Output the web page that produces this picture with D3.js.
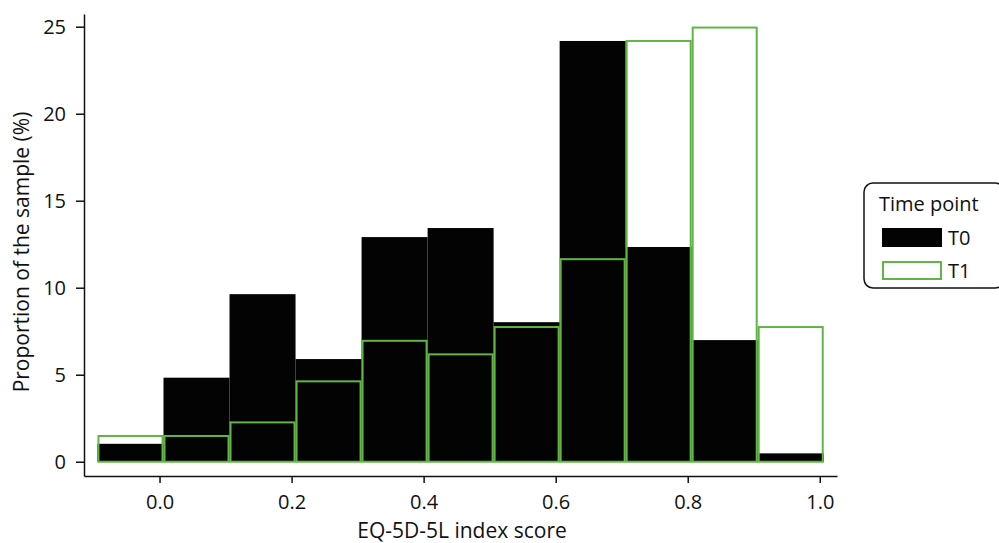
<!DOCTYPE html>
<html><head><meta charset="utf-8">
<script src="https://cdn.jsdelivr.net/npm/d3@7"></script>
<style>body{margin:0;background:#fff}svg{display:block}text{font-family:"Open Sans",sans-serif;fill:#111}</style>
</head><body><svg id="c" width="999" height="543"></svg>
<script>
const binEdges = [-0.094, 0.006, 0.106, 0.206, 0.306, 0.406, 0.506, 0.606, 0.706, 0.806, 0.906, 1.006];
const t0Values = [1.03, 4.83, 9.63, 5.90, 12.91, 13.43, 8.02, 24.18, 12.34, 6.99, 0.48];
const t1Values = [1.48, 1.48, 2.26, 4.62, 6.95, 6.17, 7.74, 11.64, 24.18, 24.95, 7.74];
const xTicks = [0.0, 0.2, 0.4, 0.6, 0.8, 1.0];
const yTicks = [0, 5, 10, 15, 20, 25];
const seriesNames = ["T0", "T1"];

const svg = d3.select("#c");
const x = d3.scaleLinear().domain([-0.1144, 1.0261]).range([84, 837]);
const y = d3.scaleLinear().domain([-0.82, 25.73]).range([476, 14]);
const green = "#62b447";
const FS = 20;

const bins = t0Values.map((v, i) => ({x0: binEdges[i], x1: binEdges[i+1], t0: v, t1: t1Values[i]}));

svg.append("g").selectAll("rect").data(bins).join("rect")
  .attr("x", d => x(d.x0)).attr("width", d => x(d.x1) - x(d.x0))
  .attr("y", d => y(d.t0)).attr("height", d => y(0) - y(d.t0))
  .attr("fill", "#030303");

svg.append("g").selectAll("rect").data(bins).join("rect")
  .attr("x", d => x(d.x0) + 1).attr("width", d => x(d.x1) - x(d.x0) - 2)
  .attr("y", d => y(d.t1)).attr("height", d => y(0) - y(d.t1))
  .attr("fill", "none").attr("stroke", green).attr("stroke-width", 2);

const xAxis = svg.append("g").attr("transform", "translate(0,476)")
  .call(d3.axisBottom(x).tickValues(xTicks).tickFormat(d3.format(".1f")).tickSize(7).tickSizeOuter(0));
const yAxis = svg.append("g").attr("transform", "translate(84,0)")
  .call(d3.axisLeft(y).tickValues(yTicks).tickSize(8).tickSizeOuter(0));
[xAxis, yAxis].forEach(a => {
  a.select(".domain").attr("stroke", "#111").attr("stroke-width", 1.5);
  a.selectAll(".tick line").attr("stroke", "#111").attr("stroke-width", 1.5);
  a.selectAll("text").attr("font-size", FS).attr("font-family", '"Open Sans",sans-serif').attr("fill", "#111");
});
xAxis.selectAll("text").attr("y", 33).attr("dy", 0);
yAxis.selectAll("text").attr("x", -18).attr("dy", "0.36em");

svg.append("text").attr("x", 462).attr("y", 538).attr("text-anchor", "middle").attr("font-size", 21)
  .text("EQ-5D-5L index score");
svg.append("text").attr("transform", "translate(29,252) rotate(-90)").attr("text-anchor", "middle").attr("font-size", 21)
  .text("Proportion of the sample (%)");

const lg = svg.append("g");
lg.append("rect").attr("x", 864).attr("y", 183).attr("width", 140).attr("height", 105).attr("rx", 9)
  .attr("fill", "#fff").attr("stroke", "#111").attr("stroke-width", 1.5);
lg.append("text").attr("x", 879).attr("y", 211).attr("font-size", FS).text("Time point");
lg.append("rect").attr("x", 882).attr("y", 228).attr("width", 60).attr("height", 19).attr("fill", "#030303");
lg.append("rect").attr("x", 883).attr("y", 262).attr("width", 58).attr("height", 17).attr("fill", "none").attr("stroke", green).attr("stroke-width", 2);
lg.append("text").attr("x", 948).attr("y", 245).attr("font-size", FS).text(seriesNames[0]);
lg.append("text").attr("x", 948).attr("y", 278).attr("font-size", FS).text(seriesNames[1]);
</script></body></html>
